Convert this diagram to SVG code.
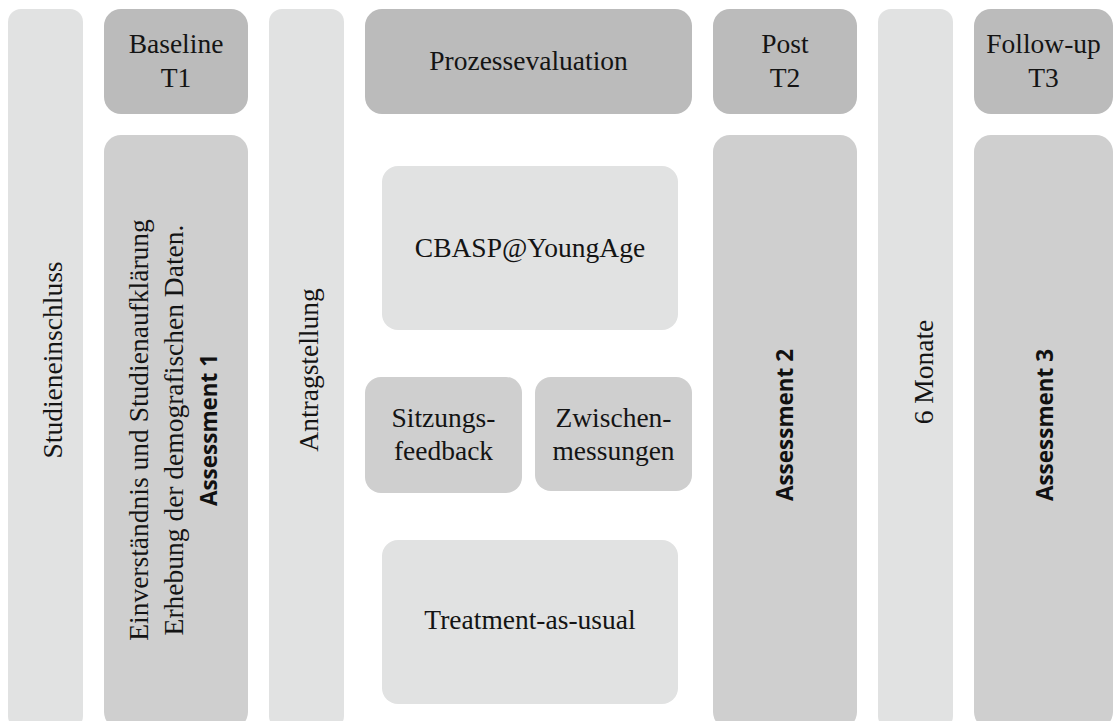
<svg xmlns="http://www.w3.org/2000/svg" width="1113" height="721" viewBox="0 0 1113 721">
  <style>
    .light { fill: #e1e2e2; }
    .mid { fill: #cfcfcf; }
    .dark { fill: #bbbbbb; }
    .t { font-family: "Liberation Serif", "Times New Roman", serif; font-size: 27.5px; fill: #141414; text-anchor: middle; }
    .b { font-family: "Open Sans", "Liberation Sans", sans-serif; font-weight: 700; font-size: 22.5px; fill: #111111; text-anchor: middle; }
  </style>
  <rect width="1113" height="721" fill="#ffffff"/>

  <g id="studieneinschluss">
    <rect class="light" x="8" y="9" width="75" height="720" rx="13"/>
    <text class="t" transform="translate(62,360) rotate(-90)">Studieneinschluss</text>
  </g>

  <g id="baseline">
    <rect class="dark" x="104" y="9" width="144" height="105" rx="17"/>
    <text class="t" x="176" y="53">Baseline</text>
    <text class="t" x="176" y="87">T1</text>
  </g>

  <g id="assessment1">
    <rect class="mid" x="104" y="135" width="144" height="594" rx="17"/>
    <text class="t" transform="translate(148,430) rotate(-90)">Einverständnis und Studienaufklärung</text>
    <text class="t" transform="translate(183,430) rotate(-90)">Erhebung der demografischen Daten.</text>
    <text class="b" transform="translate(217,430) rotate(-90)">Assessment 1</text>
  </g>

  <g id="antragstellung">
    <rect class="light" x="269" y="9" width="75" height="720" rx="13"/>
    <text class="t" transform="translate(318,370) rotate(-90)">Antragstellung</text>
  </g>

  <g id="prozessevaluation">
    <rect class="dark" x="365" y="9" width="327" height="105" rx="17"/>
    <text class="t" x="528.5" y="70">Prozessevaluation</text>
  </g>

  <g id="cbasp">
    <rect class="light" x="382" y="166" width="296" height="164" rx="16"/>
    <text class="t" x="530" y="257">CBASP@YoungAge</text>
  </g>

  <g id="sitzungsfeedback">
    <rect class="mid" x="365" y="377" width="157" height="116" rx="16"/>
    <text class="t" x="443.5" y="427">Sitzungs-</text>
    <text class="t" x="443.5" y="460">feedback</text>
  </g>

  <g id="zwischenmessungen">
    <rect class="mid" x="535" y="377" width="157" height="114" rx="16"/>
    <text class="t" x="613.5" y="427">Zwischen-</text>
    <text class="t" x="613.5" y="460">messungen</text>
  </g>

  <g id="treatment-as-usual">
    <rect class="light" x="382" y="540" width="296" height="164" rx="16"/>
    <text class="t" x="530" y="629">Treatment-as-usual</text>
  </g>

  <g id="post">
    <rect class="dark" x="713" y="9" width="144" height="105" rx="17"/>
    <text class="t" x="785" y="53">Post</text>
    <text class="t" x="785" y="87">T2</text>
  </g>

  <g id="assessment2">
    <rect class="mid" x="713" y="135" width="144" height="594" rx="17"/>
    <text class="b" transform="translate(793,425) rotate(-90)">Assessment 2</text>
  </g>

  <g id="sechs-monate">
    <rect class="light" x="878" y="9" width="75" height="720" rx="13"/>
    <text class="t" transform="translate(933,372) rotate(-90)">6 Monate</text>
  </g>

  <g id="follow-up">
    <rect class="dark" x="974" y="9" width="139" height="105" rx="17"/>
    <text class="t" x="1043.5" y="53">Follow-up</text>
    <text class="t" x="1043.5" y="87">T3</text>
  </g>

  <g id="assessment3">
    <rect class="mid" x="974" y="135" width="139" height="594" rx="17"/>
    <text class="b" transform="translate(1053,425) rotate(-90)">Assessment 3</text>
  </g>

  <g id="connectors"/>
</svg>
